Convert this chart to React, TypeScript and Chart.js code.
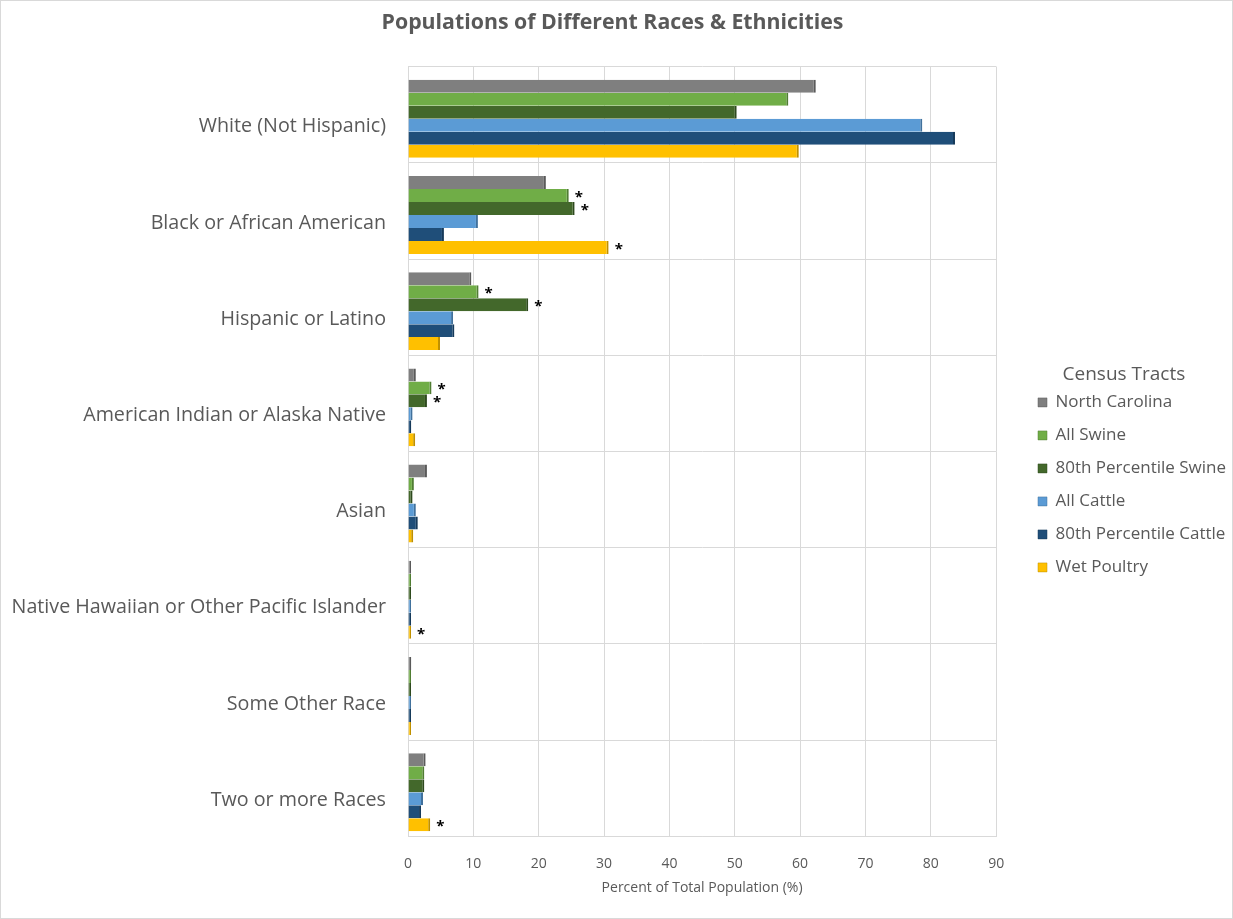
import React, { useEffect, useRef } from "react";
import { Chart, registerables } from "chart.js";

Chart.register(...registerables);

const categories = [
  "White (Not Hispanic)",
  "Black or African American",
  "Hispanic or Latino",
  "American Indian or Alaska Native",
  "Asian",
  "Native Hawaiian or Other Pacific Islander",
  "Some Other Race",
  "Two or more Races",
];

const seriesNames = [
  "North Carolina",
  "All Swine",
  "80th Percentile Swine",
  "All Cattle",
  "80th Percentile Cattle",
  "Wet Poultry",
];

const northCarolina = [62.4, 21.1, 9.7, 1.2, 2.9, 0.1, 0.5, 2.7];
const allSwine = [58.2, 24.6, 10.8, 3.6, 0.9, 0.1, 0.3, 2.5];
const swine80 = [50.3, 25.5, 18.4, 2.9, 0.7, 0.1, 0.3, 2.5];
const allCattle = [78.7, 10.7, 6.9, 0.7, 1.2, 0.1, 0.4, 2.3];
const cattle80 = [83.7, 5.5, 7.1, 0.5, 1.5, 0.1, 0.4, 2.0];
const wetPoultry = [59.8, 30.7, 4.9, 1.1, 0.8, 0.2, 0.2, 3.4];

// category indices marked with an asterisk, per series
const starsNorthCarolina: number[] = [];
const starsAllSwine = [1, 2, 3];
const starsSwine80 = [1, 2, 3];
const starsAllCattle: number[] = [];
const starsCattle80: number[] = [];
const starsWetPoultry = [1, 5, 7];

const xTicks = [0, 10, 20, 30, 40, 50, 60, 70, 80, 90];

const colors = ["#7f7f7f", "#70ad47", "#43682b", "#5b9bd5", "#1f4e79", "#ffc000"];
const sideColors = ["#5a5a5a", "#507d33", "#2e4a1e", "#41719c", "#163a5a", "#bf9000"];

const FONT = "'Open Sans', 'Noto Sans', sans-serif";
const TEXT = "#595959";

export default function App() {
  const ref = useRef<HTMLCanvasElement | null>(null);

  useEffect(() => {
    document.body.style.margin = "0";
    const values = [northCarolina, allSwine, swine80, allCattle, cattle80, wetPoultry];
    const stars = [starsNorthCarolina, starsAllSwine, starsSwine80, starsAllCattle, starsCattle80, starsWetPoultry];

    const BAR_SHIFT = 4;

    const starPlugin = {
      id: "stars",
      beforeDatasetsDraw(chart: any) {
        chart.ctx.save();
        chart.ctx.translate(0, BAR_SHIFT);
      },
      afterDatasetsDraw(chart: any) {
        const ctx = chart.ctx;
        ctx.restore();
        ctx.save();
        ctx.fillStyle = "#000000";
        ctx.font = `bold 15px ${FONT}`;
        ctx.textAlign = "left";
        ctx.textBaseline = "middle";
        stars.forEach((list, di) => {
          const meta = chart.getDatasetMeta(di);
          list.forEach((ci) => {
            const el = meta.data[ci];
            if (el) ctx.fillText("*", el.x + 6, el.y + 2 + BAR_SHIFT);
          });
        });
        ctx.restore();
      },
    };

    const legendPlace = {
      id: "legendPlace",
      afterLayout(chart: any) {
        const lg = chart.legend;
        if (!lg) return;
        const w = lg.right - lg.left;
        lg.left = 1021;
        lg.right = lg.left + w;
        lg.top += 30;
        lg.bottom += 30;
      },
    };

    const chart = new Chart(ref.current!, {
      type: "bar",
      data: {
        labels: categories,
        datasets: seriesNames.map((name, i) => ({
          label: name,
          data: values[i],
          backgroundColor: colors[i],
          borderColor: sideColors[i],
          borderWidth: { top: 0, right: 2, bottom: 0, left: 0 },
          borderSkipped: false,
          categoryPercentage: 0.81,
          barPercentage: 1.0,
          minBarLength: 3,
        })),
      },
      options: {
        indexAxis: "y",
        animation: false,
        responsive: true,
        maintainAspectRatio: false,
        layout: { padding: { left: 0, right: 8, top: 0, bottom: 22 } },
        scales: {
          x: {
            min: 0,
            max: 90,
            afterBuildTicks(scale: any) {
              scale.ticks = xTicks.map((v) => ({ value: v }));
            },
            grid: { color: "#d9d9d9", drawTicks: false, lineWidth: 1 },
            border: { display: true, color: "#d9d9d9" },
            ticks: {
              padding: 19.5,
              color: TEXT,
              font: { family: FONT, size: 14 },
            },
            title: {
              display: true,
              text: "Percent of Total Population (%)",
              color: TEXT,
              font: { family: FONT, size: 14 },
              padding: { top: -13, bottom: 0 },
            },
          },
          y: {
            grid: { color: "#d9d9d9", drawTicks: false, offset: true },
            border: { display: true, color: "#d9d9d9" },
            ticks: {
              padding: 22,
              labelOffset: 12,
              color: TEXT,
              font: { family: FONT, size: 19.7 },
            },
            afterFit(scale: any) {
              scale.width = 407;
            },
          },
          gap: {
            type: "linear",
            position: "right",
            display: true,
            grid: { display: false, drawTicks: false },
            border: { display: false },
            ticks: { display: false },
            afterFit(scale: any) {
              scale.width = 24;
            },
          },
        },
        plugins: {
          title: {
            display: true,
            text: "Populations of Different Races & Ethnicities",
            color: TEXT,
            font: { family: FONT, size: 21.3, weight: "bold" },
            padding: { top: 9, bottom: 31 },
          },
          legend: {
            position: "right",
            title: {
              display: true,
              text: "Census Tracts",
              color: TEXT,
              font: { family: FONT, size: 19 },
              padding: { top: 0, bottom: -10 },
            },
            labels: {
              boxWidth: 9,
              boxHeight: 9,
              padding: 16,
              color: TEXT,
              font: { family: FONT, size: 17 },
            },
          },
          tooltip: { enabled: false },
        },
      } as any,
      plugins: [starPlugin, legendPlace],
    });
    return () => chart.destroy();
  }, []);

  return (
    <div
      style={{
        width: 1233,
        height: 919,
        boxSizing: "border-box",
        border: "1px solid #d9d9d9",
        background: "#ffffff",
        position: "relative",
      }}
    >
      <canvas ref={ref} />
    </div>
  );
}
